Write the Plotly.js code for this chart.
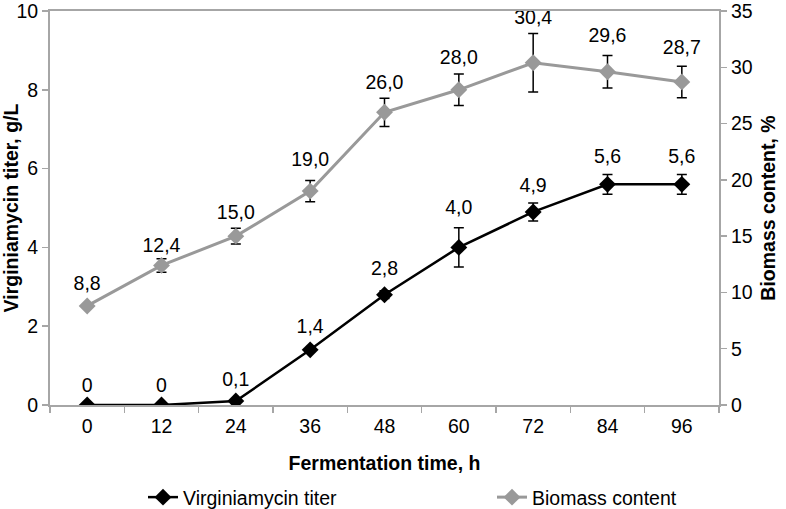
<!DOCTYPE html>
<html>
<head>
<meta charset="utf-8">
<script src="https://cdn.plot.ly/plotly-3.0.1.min.js"></script>
<style>html,body{margin:0;padding:0;background:#fff;}#chart{width:786px;height:509px;}</style>
</head>
<body>
<div id="chart"></div>
<script>
const times = ["0", "12", "24", "36", "48", "60", "72", "84", "96"];
const titer = [0, 0, 0.1, 1.4, 2.8, 4.0, 4.9, 5.6, 5.6];
const titerErr = [0, 0, 0, 0.05, 0.1, 0.5, 0.23, 0.25, 0.25];
const titerLabels = ["0", "0", "0,1", "1,4", "2,8", "4,0", "4,9", "5,6", "5,6"];
const biomass = [8.8, 12.4, 15.0, 19.0, 26.0, 28.0, 30.4, 29.6, 28.7];
const biomassErr = [0, 0.6, 0.7, 0.95, 1.25, 1.4, 2.6, 1.45, 1.4];
const biomassLabels = ["8,8", "12,4", "15,0", "19,0", "26,0", "28,0", "30,4", "29,6", "28,7"];

// style: per-label spacing above the points (invisible marker sizes, px)
const titerLabelGap = [12, 12, 14, 18, 22, 44, 22, 24, 24];
const biomassLabelGap = [16, 12, 18, 30, 28, 32, 52, 38, 36];

const font = "Liberation Sans, Arial, sans-serif";
const fs = 19.5;
const axisGray = "#a6a6a6";

const traces = [
  {
    x: times, y: titer, type: "scatter", mode: "lines+markers",
    name: "Virginiamycin titer", yaxis: "y", legend: "legend",
    line: {color: "#000000", width: 2.5},
    marker: {symbol: "diamond", size: 13, color: "#000000"},
    error_y: {type: "data", array: titerErr, visible: true, color: "#000000", thickness: 1.5, width: 5}
  },
  {
    x: times, y: biomass, type: "scatter", mode: "lines+markers",
    name: "Biomass content", yaxis: "y2", legend: "legend2",
    line: {color: "#999999", width: 3},
    marker: {symbol: "diamond", size: 13, color: "#999999"},
    error_y: {type: "data", array: biomassErr, visible: true, color: "#000000", thickness: 1.5, width: 5}
  },
  {
    x: times, y: titer, type: "scatter", mode: "markers+text", text: titerLabels,
    textposition: "top center", yaxis: "y", showlegend: false, hoverinfo: "skip",
    marker: {size: titerLabelGap, opacity: 0},
    textfont: {family: font, size: fs, color: "#000000"}
  },
  {
    x: times, y: biomass, type: "scatter", mode: "markers+text", text: biomassLabels,
    textposition: "top center", yaxis: "y2", showlegend: false, hoverinfo: "skip",
    marker: {size: biomassLabelGap, opacity: 0},
    textfont: {family: font, size: fs, color: "#000000"}
  }
];

const legendCommon = {
  orientation: "h", xanchor: "left", xref: "container",
  y: 0.061, yanchor: "top", yref: "container",
  font: {family: font, size: fs, color: "#000000"}
};

const layout = {
  width: 786, height: 509,
  margin: {l: 50, r: 67, t: 11, b: 104},
  paper_bgcolor: "#ffffff", plot_bgcolor: "#ffffff",
  font: {family: font, size: fs, color: "#000000"},
  showlegend: true,
  legend: Object.assign({}, legendCommon, {x: 143 / 786}),
  legend2: Object.assign({}, legendCommon, {x: 492 / 786}),
  xaxis: {
    type: "category", range: [-0.5, 8.5],
    showline: true, linecolor: axisGray, linewidth: 2, mirror: true,
    ticks: "outside", tickson: "boundaries", ticklen: 6, tickcolor: axisGray, tickwidth: 1.5,
    ticklabelstandoff: 3,
    showgrid: false, zeroline: false,
    tickfont: {family: font, size: fs},
    title: {text: "<b>Fermentation time, h</b>", font: {family: font, size: fs}, standoff: 20}
  },
  yaxis: {
    range: [0, 10], dtick: 2,
    showline: true, linecolor: axisGray, linewidth: 2,
    ticks: "outside", ticklen: 6, tickcolor: axisGray, tickwidth: 1.5,
    ticklabeloverflow: "allow",
    showgrid: false, zeroline: false,
    tickfont: {family: font, size: fs},
    title: {text: "<b>Virginiamycin titer, g/L</b>", font: {family: font, size: fs}, standoff: 6}
  },
  yaxis2: {
    range: [0, 35], dtick: 5, overlaying: "y", side: "right",
    showline: true, linecolor: axisGray, linewidth: 2,
    ticks: "outside", ticklen: 6, tickcolor: axisGray, tickwidth: 1.5,
    ticklabeloverflow: "allow",
    showgrid: false, zeroline: false,
    tickfont: {family: font, size: fs},
    title: {text: "<b>Biomass content, %</b>", font: {family: font, size: fs}, standoff: 10}
  }
};

Plotly.newPlot("chart", traces, layout, {displayModeBar: false, staticPlot: true});
</script>
</body>
</html>
